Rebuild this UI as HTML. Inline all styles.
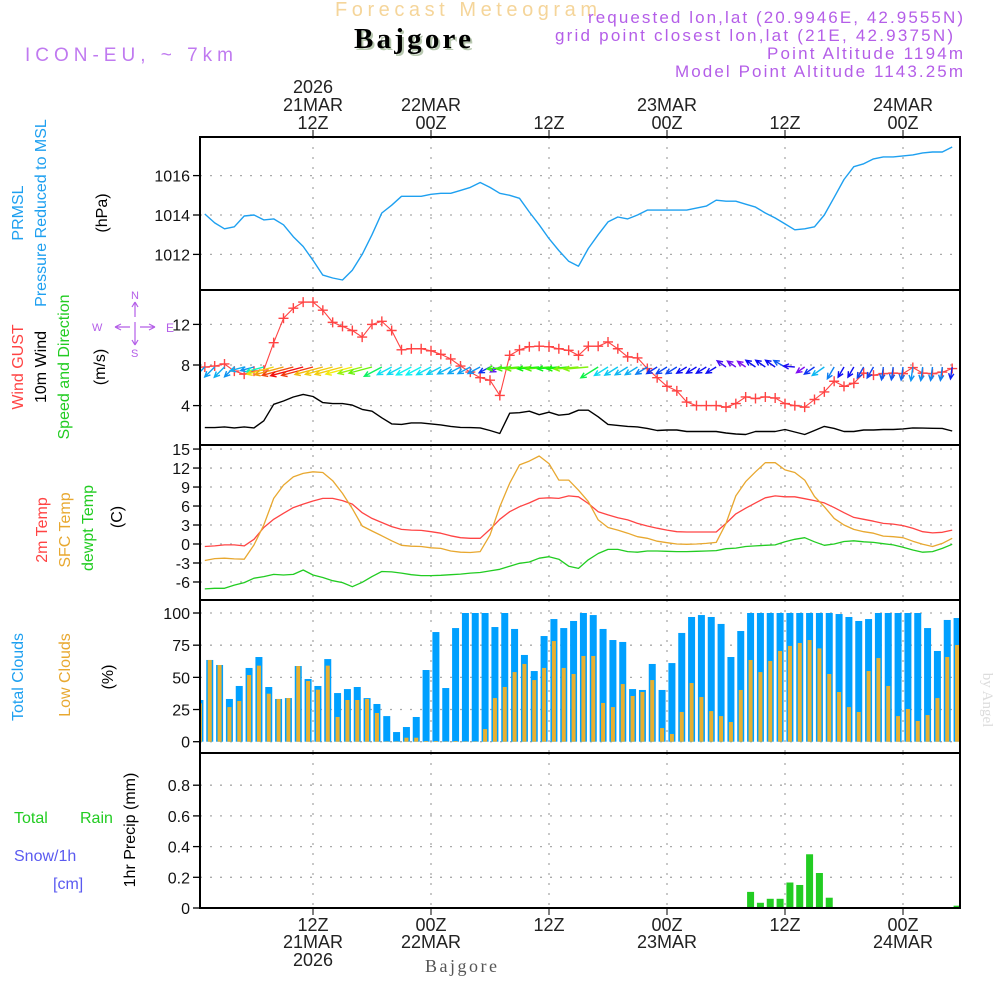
<!DOCTYPE html>
<html><head><meta charset="utf-8"><style>
html,body{margin:0;padding:0;background:#fff;}
svg{display:block;font-family:"Liberation Sans",sans-serif;}
</style></head><body>
<svg id="chart" width="1000" height="1000" viewBox="0 0 1000 1000" xmlns="http://www.w3.org/2000/svg">
<defs><clipPath id="plotclip"><rect x="200" y="130" width="760" height="790"/></clipPath></defs>
<text x="335" y="16" font-size="20" fill="#f5d59a" textLength="262" lengthAdjust="spacing">Forecast Meteogram</text>
<text x="356" y="50" font-size="29" font-weight="bold" font-family="Liberation Serif, serif" fill="#b8c8b0" textLength="117">Bajgore</text>
<text x="354" y="48" font-size="29" font-weight="bold" font-family="Liberation Serif, serif" fill="#000" textLength="117">Bajgore</text>
<text x="25" y="61" font-size="19" fill="#c07af0" textLength="208" lengthAdjust="spacing">ICON-EU, ~ 7km</text>
<g font-size="17" fill="#b45ee8" text-anchor="end">
<text x="963" y="23" textLength="375" lengthAdjust="spacing">requested lon,lat (20.9946E, 42.9555N)</text>
<text x="953" y="41" textLength="398" lengthAdjust="spacing">grid point closest lon,lat (21E, 42.9375N)</text>
<text x="963" y="59" textLength="196" lengthAdjust="spacing">Point Altitude 1194m</text>
<text x="963" y="77" textLength="288" lengthAdjust="spacing">Model Point Altitude 1143.25m</text>
</g>
<text transform="translate(983,700) rotate(90)" text-anchor="middle" font-size="15" font-family="Liberation Serif, serif" fill="#dcdcdc">by Angel</text>
<text x="425" y="972" font-size="18" font-family="Liberation Serif, serif" fill="#555" textLength="72">Bajgore</text>
<g stroke="#b45ee8" stroke-width="1.2" fill="none">
<path d="M115,327H130M140,327H155M115,327l6,-3M115,327l6,3M155,327l-6,-3M155,327l-6,3"/>
<path d="M135,302V317M135,322V337M135,302l-3,5M135,302l3,5M135,345l-3,-5M135,345l3,-5M135,337V345"/>
</g>
<g id="labels" font-size="15"></g>
<g id="grid"></g>
<g id="marks" clip-path="url(#plotclip)"></g>
<g id="frames"></g>
</svg>
<script>
// ---- data (hourly from 01Z 21MAR, h=1..77) ----
const pressure = [1014.05,1013.6,1013.3,1013.4,1013.95,1014.0,1013.75,1013.8,1013.5,1012.9,
1012.4,1011.7,1010.95,1010.8,1010.7,1011.2,1012.0,1013.0,1014.1,1014.5,
1014.95,1014.95,1014.95,1015.05,1015.1,1015.1,1015.25,1015.4,1015.65,1015.4,
1015.1,1015.0,1014.85,1014.15,1013.5,1012.8,1012.2,1011.65,1011.4,1012.3,
1013.0,1013.65,1013.9,1013.8,1014.0,1014.25,1014.25,1014.25,1014.25,1014.25,
1014.35,1014.45,1014.75,1014.7,1014.7,1014.55,1014.4,1014.1,1013.85,1013.55,
1013.25,1013.3,1013.4,1014.0,1014.9,1015.8,1016.45,1016.6,1016.85,1016.95,
1016.95,1017.0,1017.05,1017.15,1017.2,1017.2,1017.45];
const windGust = [7.8,7.9,8.1,7.4,7.1,7.4,7.5,10.2,12.6,13.6,
14.2,14.2,13.4,12.2,11.8,11.4,10.75,12.0,12.3,11.4,
9.5,9.6,9.6,9.4,9.05,8.6,7.9,7.3,6.75,6.5,
5.0,8.95,9.5,9.8,9.85,9.8,9.6,9.45,8.95,9.85,
9.85,10.27,9.6,8.8,8.7,7.65,6.75,5.9,5.45,4.35,
4.0,4.0,4.0,3.85,4.2,4.85,4.7,4.85,4.75,4.2,
4.0,3.85,4.6,5.35,6.4,5.9,6.2,7.2,7.0,7.15,
7.2,7.15,7.75,7.2,7.15,7.3,7.65];
const windSpeed = [1.83,1.83,1.9,1.8,1.9,1.8,2.5,4.13,4.45,4.85,
5.1,4.9,4.3,4.2,4.2,4.05,3.63,3.45,2.8,2.2,
2.15,2.3,2.3,2.2,2.1,1.95,1.85,1.83,1.8,1.55,
1.25,3.25,3.3,3.45,3.1,3.35,3.05,3.15,3.55,3.55,
2.9,2.15,2.05,1.95,1.9,1.75,1.55,1.6,1.6,1.45,
1.45,1.45,1.45,1.3,1.2,1.15,1.45,1.45,1.45,1.65,
1.4,1.15,1.55,1.95,1.75,1.45,1.45,1.6,1.6,1.65,
1.65,1.7,1.8,1.78,1.76,1.75,1.5];
const windDir = [45,45,45,45,75,75,75,75,75,75,
75,75,75,75,75,75,75,75,62,62,
62,62,62,62,62,62,62,62,62,62,
62,85,85,85,85,85,85,85,85,85,
58,58,58,58,58,58,58,58,58,58,
58,58,58,125,125,125,125,125,125,120,
95,55,55,55,30,30,30,30,30,8,
8,8,8,8,8,8,8];
const temp2m = [-0.4,-0.3,-0.15,-0.15,-0.3,0.75,2.6,3.9,4.85,5.75,
6.3,6.8,7.2,7.2,6.85,6.3,4.95,4.05,3.4,2.75,
2.3,2.2,2.15,1.95,1.7,1.3,1.0,0.9,0.9,2.3,
3.9,5.1,5.9,6.5,7.2,7.3,7.2,7.6,7.45,
6.4,5.1,4.6,4.15,3.8,3.25,2.85,2.5,2.2,1.95,
1.9,1.9,1.9,1.9,3.25,4.75,5.65,6.5,7.3,7.6,
7.45,7.45,7.15,6.85,6.5,5.75,4.95,4.2,3.9,3.6,
3.25,3.15,2.9,2.5,1.95,1.75,1.85,2.2];
const tempSfc = [-2.6,-2.3,-2.25,-2.35,-2.4,-0.15,3.0,7.2,9.3,10.6,
11.15,11.4,11.3,10.0,8.0,5.6,2.85,2.05,1.3,0.5,
-0.2,-0.35,-0.4,-0.6,-0.7,-1.1,-1.3,-1.35,-1.2,1.4,
5.9,9.6,12.5,13.1,13.9,12.7,10.1,10.1,8.5,
6.7,3.8,2.6,2.2,1.7,1.15,0.9,0.45,0.2,0,
-0.05,0,0.1,0.25,3.25,7.6,9.85,11.4,12.85,12.85,
11.7,11.3,10.1,7.5,5.9,4.05,3.0,2.3,1.95,1.7,
1.25,1.15,1.0,0.45,-0.05,-0.4,0.1,0.9];
const dewpt = [-7.1,-7.0,-7.0,-6.5,-6.1,-5.4,-5.15,-4.8,-4.9,-4.8,
-4.1,-4.9,-5.3,-5.8,-6.1,-6.75,-6.05,-5.15,-4.35,-4.4,
-4.6,-4.85,-5.0,-5.0,-4.95,-4.85,-4.75,-4.6,-4.5,-4.25,
-4.0,-3.5,-3.05,-2.85,-2.25,-2.0,-2.4,-3.5,-3.85,
-2.5,-1.5,-0.85,-0.85,-1.2,-1.3,-1.1,-1.1,-1.15,-1.2,
-1.2,-1.15,-1.1,-1.05,-0.75,-0.65,-0.4,-0.3,-0.2,-0.15,
0.35,0.75,1.0,0.35,-0.2,0,0.4,0.5,0.35,0.25,
0.05,-0.15,-0.5,-0.95,-1.3,-1.2,-0.7,-0.05];
// bars: k=0..77 centred at h=k+0.5
const totalClouds = [32.4,63.5,59.6,33.2,43.3,57.3,65.8,42.5,33.2,33.9,
58.8,48.7,43.3,64.2,37.8,40.9,42.5,33.9,29.3,19.9,
7.5,11.4,19.2,55.7,85.2,41.7,88.3,100,100,100,
89.1,100,87.6,67.4,54.9,82.1,95.3,88.3,93.8,100,
98.4,87.6,79,77.5,40.9,40.2,60.4,40.2,61.1,84.5,
96.9,98.4,96.9,91.5,65.8,86,100,100,100,100,
100,100,100,100,100,99.2,96.9,93.8,95.3,100,
100,100,100,100,88.3,70.5,94.6,96.1];
const lowClouds = [29.8,63.5,59.6,26.9,31.6,51.8,59.1,37.3,33.2,33.9,
58.8,47.2,40.4,59.1,19.2,32.4,32.4,33.2,22.3,0.3,
0.3,3.1,3.1,0.5,0.5,0.3,0.5,0.3,0.3,9.8,
33.9,42.5,54.1,60.4,47.9,57.3,78.2,57.3,52.6,66.6,
66.6,30.1,26.9,44.8,35.5,38.6,47.9,10.6,6,23.1,
45.6,34.7,23.8,19.9,15.3,40.2,63.5,54.1,62.7,70.5,
74.4,76.7,79,72.5,52.6,38.6,26.9,23.1,54.9,65,
43.3,19.9,25.4,16.1,20.7,33.9,65.8,75.1];
const precip = [0,0,0,0,0,0,0,0,0,0, 0,0,0,0,0,0,0,0,0,0,
0,0,0,0,0,0,0,0,0,0, 0,0,0,0,0,0,0,0,0,0,
0.005,0,0,0,0,0,0,0,0,0, 0,0,0,0,0,0,0.105,0.034,0.06,0.06,
0.166,0.15,0.35,0.228,0.067,0,0,0,0,0, 0,0,0,0,0,0,0,0.015];
const pressTicks = [1012,1014,1016];
const windTicks = [4,8,12];
const tempTicks = [-6,-3,0,3,6,9,12,15];
const cloudTicks = [0,25,50,75,100];
const precipTicks = [0,0.2,0.4,0.6,0.8];
const timeTickHours = [12,24,36,48,60,72];
const topTimeLabels = [["2026","21MAR","12Z"],["","22MAR","00Z"],["","","12Z"],["","23MAR","00Z"],["","","12Z"],["","24MAR","00Z"]];
const botTimeLabels = [["12Z","21MAR","2026"],["00Z","22MAR",""],["12Z","",""],["00Z","23MAR",""],["12Z","",""],["00Z","24MAR",""]];

// ---- scales ----
const X0=200,X1=960;
const xOf = h => 313 + (h-12)*9.8333;
const yP = p => 215 - (p-1014)*19.7;
const yW = v => 365 - (v-8)*10.15;
const yT = t => 544 - t*6.33;
const yC = c => 741.7 - c*1.287;
const yR = r => 908 - r*153.5;
const panels = [[137,290],[290,445],[445,600],[600,753],[753,908]];

const NS="http://www.w3.org/2000/svg";
function mk(parent, tag, attrs){const e=document.createElementNS(NS,tag);for(const k in attrs)e.setAttribute(k,attrs[k]);parent.appendChild(e);return e;}
const gGrid=document.getElementById('grid'), gMarks=document.getElementById('marks'), gFrames=document.getElementById('frames'), gLab=document.getElementById('labels');

function hGrid(vals, f, nm){vals.forEach(v=>{const l=mk(gGrid,'line',{x1:X0,x2:X1,y1:f(v),y2:f(v),stroke:'#aaa','stroke-width':1.3,'stroke-dasharray':'2,8'});


const t=mk(gLab,'line',{x1:193,x2:200,y1:f(v),y2:f(v),stroke:'#000','stroke-width':1.3});


const tx=mk(gLab,'text',{x:190,y:f(v)+6,'text-anchor':'end','font-size':16,fill:'#111'});
tx.textContent = (nm==='precip' && v!==0)? v.toFixed(1) : String(v);

});}
hGrid(pressTicks,yP,'pressure');hGrid(windTicks,yW,'wind');hGrid(tempTicks,yT,'temp');hGrid(cloudTicks,yC,'cloud');hGrid(precipTicks,yR,'precip');
timeTickHours.forEach((h,i)=>{const x=xOf(h);
panels.forEach(p=>{const l=mk(gGrid,'line',{x1:x,x2:x,y1:p[0],y2:p[1],stroke:'#aaa','stroke-width':1.3,'stroke-dasharray':'2,8'});

});
const t1=mk(gLab,'line',{x1:x,x2:x,y1:130,y2:137,stroke:'#000'});


const t2=mk(gLab,'line',{x1:x,x2:x,y1:908,y2:915,stroke:'#000'});


[93,111,129].forEach((y,j)=>{if(!topTimeLabels[i][j])return;const tx=mk(gLab,'text',{x:x,y:y,'text-anchor':'middle','font-size':18,fill:'#222'});tx.textContent=topTimeLabels[i][j];

});
[931,948,966].forEach((y,j)=>{if(!botTimeLabels[i][j])return;const tx=mk(gLab,'text',{x:x,y:y,'text-anchor':'middle','font-size':18,fill:'#222'});tx.textContent=botTimeLabels[i][j];

});});

function series(vals, f, color, nm, w){const pts=vals.map((v,i)=>xOf(i+1).toFixed(1)+','+f(v).toFixed(1)).join(' ');
const pl=mk(gMarks,'polyline',{points:pts,fill:'none',stroke:color,'stroke-width':w||1.3,'stroke-linejoin':'round'});

return pl;}
series(pressure,yP,'#1ea0f0','pressure-line',1.4);
series(windSpeed,yW,'#000','wind-speed-line',1.4);
series(windGust,yW,'#ff4444','wind-gust-line',1.1);
windGust.forEach((v,i)=>{const x=xOf(i+1),y=yW(v);
const m=mk(gMarks,'path',{d:`M${x-5},${y}H${x+5}M${x},${y-5}V${y+5}`,stroke:'#ff4444','stroke-width':1.4});

});
function spdColor(s){const st=[[1.1,275],[1.5,235],[1.85,200],[2.3,180],[3.3,105],[4.1,55],[4.5,35],[5.1,0]];
let h=st[0][1];if(s>=st[st.length-1][0])h=0;else for(let i=0;i<st.length-1;i++){if(s>=st[i][0]&&s<st[i+1][0]){const t=(s-st[i][0])/(st[i+1][0]-st[i][0]);h=st[i][1]+t*(st[i+1][1]-st[i][1]);}}
return `hsl(${h},90%,50%)`;}
windDir.forEach((d,i)=>{const s=windSpeed[i];const to=(d+180)*Math.PI/180;const L=6*s+3;
const x0=xOf(i+1),y0=367,dx=Math.sin(to),dy=-Math.cos(to);const x1=x0+dx*L,y1=y0+dy*L;
const a=Math.atan2(dy,dx),hl=6;
const p=`M${x0},${y0}L${x1},${y1}M${x1-hl*Math.cos(a-0.45)},${y1-hl*Math.sin(a-0.45)}L${x1},${y1}L${x1-hl*Math.cos(a+0.45)},${y1-hl*Math.sin(a+0.45)}`;
const e=mk(gMarks,'path',{d:p,stroke:spdColor(s),'stroke-width':1.4,fill:'none'});

});
series(temp2m,yT,'#ff4444','temp-2m-line');
series(tempSfc,yT,'#e8a830','temp-sfc-line');
series(dewpt,yT,'#22cc22','dewpoint-line');
totalClouds.forEach((v,k)=>{const x=xOf(k+0.5);
const b=mk(gMarks,'rect',{x:x-3.5,y:yC(v),width:7,height:yC(0)-yC(v),fill:'#00a0ff'});


const l=lowClouds[k];
const o=mk(gMarks,'rect',{x:x-2,y:yC(l),width:4,height:yC(0)-yC(l),fill:'#e8b030'});

});
precip.forEach((v,k)=>{if(v<=0)return;const x=xOf(k+0.5);
const b=mk(gMarks,'rect',{x:x-3.5,y:yR(v),width:7,height:yR(0)-yR(v),fill:'#22cc22'});

});
panels.forEach((p,i)=>{const r=mk(gFrames,'rect',{x:X0,y:p[0],width:X1-X0,height:p[1]-p[0],fill:'none',stroke:'#000','stroke-width':2});

});

function vlab(txt,x,y,color,nm,fs){const t=mk(gLab,'text',{transform:`translate(${x},${y}) rotate(-90)`,'text-anchor':'middle','font-size':fs||16,fill:color});t.textContent=txt;

}
function hlab(txt,x,y,color,nm,fs){const t=mk(gLab,'text',{x:x,y:y,'font-size':fs||16,fill:color});t.textContent=txt;

}
vlab('PRMSL',23,213,'#1ea0f0','prmsl-label');
vlab('Pressure Reduced to MSL',46,213,'#1ea0f0','pressure-title');
vlab('(hPa)',107,213,'#000','pressure-unit');
vlab('Wind GUST',23,367,'#ff4444','gust-label');
vlab('10m Wind',46,367,'#000','wind-label');
vlab('Speed and Direction',69,367,'#22cc22','wind-dir-label');
vlab('(m/s)',105,367,'#000','wind-unit');
hlab('W',92,331,'#b45ee8','compass-w',11);
hlab('N',131,299,'#b45ee8','compass-n',11);
hlab('S',131,357,'#b45ee8','compass-s',11);
hlab('E',166,332,'#b45ee8','compass-e',12);
vlab('2m Temp',47,530,'#ff4444','temp-2m-label');
vlab('SFC Temp',70,530,'#e8a830','temp-sfc-label');
vlab('dewpt Temp',93,528,'#22cc22','dewpt-label');
vlab('(C)',122,517,'#000','temp-unit');
vlab('Total Clouds',23,677,'#1ea0f0','total-clouds-label');
vlab('Low Clouds',70,675,'#e8a830','low-clouds-label');
vlab('(%)',113,677,'#000','cloud-unit');
hlab('Total',14,823,'#22cc22','total-rain-label');
hlab('Rain',80,823,'#22cc22','rain-label');
hlab('Snow/1h',14,861,'#5a5af0','snow-label');
hlab('[cm]',53,889,'#5a5af0','snow-unit');
vlab('1hr Precip (mm)',135,830,'#000','precip-title');
</script>
</body></html>
